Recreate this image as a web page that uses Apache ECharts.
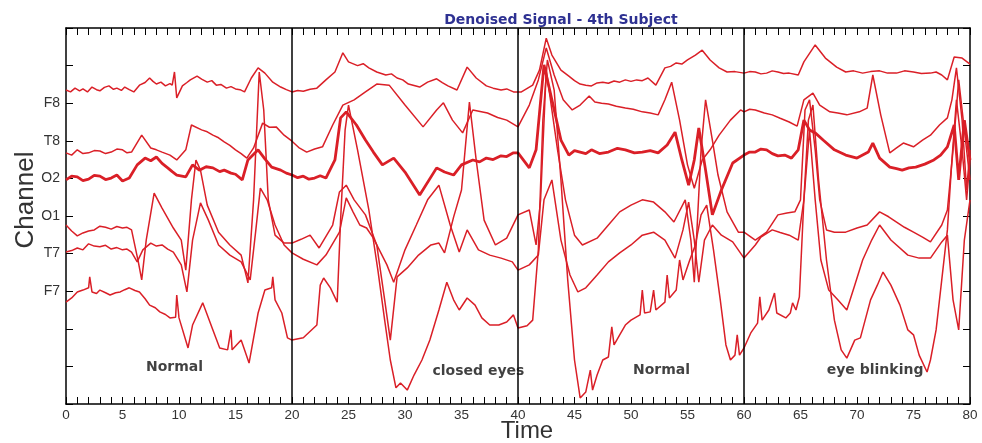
<!DOCTYPE html>
<html>
<head>
<meta charset="utf-8">
<script src="https://cdn.jsdelivr.net/npm/echarts@6/dist/echarts.min.js"></script>
<style>
html,body{margin:0;padding:0;background:#fff;}
#chart{width:982px;height:443px;}
</style>
</head>
<body>
<div id="chart"></div>
<script>
// ---- Data (time in seconds, value in channel-offset units) ----
const channelTicks = [3, 4, 5, 6, 7, 8];
const channelNames = ['F7', 'T7', 'O1', 'O2', 'T8', 'F8'];
const boundaries = [20, 40, 60];
const annotTimes = [9.6, 36.5, 52.7, 71.6];
const annotLevels = [0.98, 0.88, 0.90, 0.90];
const annotTexts = ['Normal', 'closed eyes', 'Normal', 'eye blinking'];

const F8 = [[0,8.35],[0.4,8.30],[0.8,8.40],[1.2,8.33],[1.5,8.38],[1.9,8.30],[2.3,8.43],[2.7,8.36],[3,8.33],[3.4,8.42],[3.8,8.46],[4.2,8.37],[4.5,8.40],[4.9,8.34],[5.2,8.43],[5.6,8.36],[6,8.30],[6.5,8.48],[7,8.55],[7.4,8.67],[7.7,8.58],[8,8.51],[8.4,8.56],[8.8,8.46],[9.2,8.52],[9.4,8.48],[9.6,8.83],[9.8,8.14],[10.3,8.46],[10.7,8.55],[11,8.62],[11.6,8.72],[12,8.64],[12.5,8.56],[12.9,8.60],[13.3,8.48],[13.7,8.50],[14.2,8.40],[14.6,8.44],[15,8.38],[15.4,8.36],[15.8,8.30],[16.4,8.67],[17,8.94],[17.6,8.80],[18.3,8.56],[19,8.43],[19.5,8.36],[20,8.30],[20.5,8.34],[21,8.32],[21.6,8.37],[22.2,8.40],[23,8.62],[23.8,8.83],[24.5,9.34],[25,9.10],[25.8,9.00],[26.3,9.05],[26.8,8.94],[27.5,8.83],[28.3,8.75],[28.8,8.78],[29.3,8.67],[29.8,8.62],[30.3,8.51],[31.3,8.43],[32,8.56],[32.8,8.65],[33.3,8.55],[33.8,8.46],[34.6,8.35],[35.5,8.96],[36.3,8.67],[37.2,8.46],[37.8,8.40],[38.5,8.35],[39,8.38],[39.6,8.30],[40.3,8.30],[41.3,8.48],[41.9,8.88],[42.5,9.73],[43,9.28],[43.8,8.88],[44.5,8.72],[45,8.60],[45.5,8.51],[46,8.48],[46.5,8.46],[47,8.54],[47.5,8.56],[48,8.53],[48.5,8.59],[49,8.56],[49.5,8.62],[50,8.58],[50.5,8.62],[51,8.60],[51.5,8.67],[52.2,8.48],[53,8.94],[53.5,8.98],[54,9.07],[54.5,9.04],[55,9.15],[55.7,9.28],[56.3,9.41],[57,9.15],[57.8,8.94],[58.5,8.83],[59.2,8.84],[60,8.80],[60.5,8.84],[61,8.83],[61.5,8.78],[62,8.80],[62.5,8.86],[63,8.83],[63.5,8.79],[64,8.80],[64.8,8.75],[65.3,9.10],[66.3,9.55],[67.2,9.20],[68.2,8.96],[69,8.83],[69.7,8.86],[70.5,8.80],[71.2,8.84],[72,8.86],[72.7,8.80],[73.5,8.80],[74.2,8.86],[75,8.83],[75.7,8.79],[76.5,8.80],[77,8.83],[77.5,8.75],[78,8.62],[78.6,9.23],[79.3,9.20],[80,9.04]];

const T8 = [[0,6.68],[0.5,6.62],[1,6.76],[1.5,6.66],[2,6.68],[2.5,6.74],[3,6.73],[3.5,6.66],[4,6.70],[4.5,6.78],[5,6.76],[5.4,6.68],[5.8,6.70],[6.7,7.15],[7.5,6.81],[8,6.76],[8.5,6.70],[9.2,6.62],[9.8,6.49],[10.6,6.76],[11.1,7.42],[12,7.29],[12.5,7.24],[13,7.15],[13.5,7.08],[14,6.97],[14.5,6.88],[15,6.76],[15.5,6.66],[16,6.54],[16.6,6.81],[17.4,7.47],[18,7.36],[18.6,7.37],[19.3,7.15],[20,6.99],[20.6,6.82],[21.3,6.70],[22,6.78],[22.7,6.84],[23.6,7.42],[24.5,7.95],[25.5,8.09],[26.5,8.30],[27.5,8.51],[28.6,8.48],[30,7.95],[31.6,7.37],[32.8,7.82],[33.4,8.01],[34.2,7.55],[35.1,7.21],[36,7.82],[37.3,7.74],[38.2,7.62],[39,7.55],[40,7.37],[41,7.95],[41.8,8.62],[42.5,9.47],[43.2,8.75],[44,8.09],[44.8,7.82],[45.5,7.95],[46.3,8.19],[46.8,8.03],[47.4,8.00],[48,7.98],[48.7,7.92],[49.5,7.87],[50.2,7.84],[51,7.77],[51.7,7.74],[52.4,7.69],[53,8.09],[53.6,8.56],[54.3,7.55],[55,6.36],[55.6,5.74],[56.3,6.49],[57,6.76],[57.8,7.15],[58.8,7.55],[59.7,7.82],[60,7.77],[60.5,7.84],[61,7.82],[61.8,7.74],[62.5,7.69],[63.2,7.60],[64,7.50],[64.7,7.39],[65.3,8.09],[66.1,8.27],[66.7,7.95],[67.6,7.77],[68.3,7.74],[69.1,7.69],[70.2,7.77],[70.9,7.87],[71.4,8.75],[72.1,7.69],[72.9,6.68],[73.5,6.81],[74.1,6.94],[75,6.84],[75.8,7.02],[76.5,7.15],[77.3,7.42],[78,7.61],[78.4,8.09],[78.8,8.94],[79.3,7.55],[79.7,5.69],[80,6.76]];

const O2 = [[0,5.96],[0.5,6.06],[1,6.04],[1.5,5.94],[2,5.98],[2.5,6.08],[3,6.06],[3.5,5.97],[4,6.01],[4.5,6.09],[5,5.93],[5.6,6.01],[6.3,6.36],[7,6.54],[7.5,6.47],[8,6.57],[8.5,6.40],[9,6.28],[9.4,6.18],[9.8,6.09],[10.6,6.04],[11.2,6.36],[11.8,6.22],[12.4,6.31],[13,6.28],[13.6,6.18],[14,6.22],[14.6,6.14],[15,6.11],[15.6,5.96],[16.1,6.49],[17,6.76],[17.6,6.52],[18.2,6.30],[19,6.22],[19.5,6.14],[20,6.09],[20.5,6.02],[21,6.06],[21.5,5.98],[22,6.01],[22.5,6.07],[23,6.01],[23.8,6.49],[24.3,7.61],[24.8,7.77],[25.7,7.42],[26.5,7.02],[27.2,6.70],[28,6.36],[29,6.54],[30,6.17],[31.3,5.56],[32.8,6.28],[33.5,6.17],[34.3,6.09],[35,6.36],[36,6.49],[36.6,6.44],[37.2,6.54],[37.8,6.50],[38.5,6.60],[39,6.58],[39.6,6.68],[40,6.68],[41,6.28],[41.6,6.76],[42.3,9.02],[43,8.09],[43.8,7.02],[44.5,6.62],[45,6.74],[45.5,6.70],[46,6.66],[46.5,6.76],[47.2,6.66],[48,6.70],[48.8,6.80],[49.5,6.76],[50.3,6.68],[51,6.70],[51.7,6.74],[52.4,6.68],[53.2,6.89],[53.9,7.23],[54.5,6.49],[55.1,5.82],[55.6,6.49],[56,7.34],[56.6,6.22],[57.2,5.03],[58,5.69],[59,6.41],[60,6.62],[60.5,6.70],[61,6.70],[61.5,6.78],[62,6.76],[62.5,6.66],[63,6.60],[63.6,6.62],[64.2,6.54],[64.8,6.76],[65.3,7.55],[65.8,7.29],[66.3,7.21],[67,7.02],[68,6.76],[69,6.62],[70,6.54],[71,6.70],[71.4,6.94],[72,6.54],[72.9,6.30],[73.5,6.26],[74,6.22],[74.6,6.28],[75.2,6.30],[76,6.38],[76.8,6.49],[77.4,6.62],[78,6.84],[78.6,7.42],[79,5.96],[79.5,7.55],[80,6.49]];

const O1 = [[0,4.76],[0.5,4.60],[1,4.47],[1.5,4.55],[2,4.60],[2.5,4.63],[3,4.73],[3.5,4.70],[4,4.65],[4.5,4.72],[5,4.68],[5.4,4.70],[5.8,4.63],[6.4,3.78],[6.7,3.30],[7.1,4.36],[7.8,5.61],[8.5,5.21],[9.5,4.68],[10.2,4.36],[10.6,3.56],[11.1,5.43],[11.5,6.49],[11.9,6.22],[12.5,5.29],[13.5,4.57],[14.5,4.23],[15.5,3.96],[16.1,3.22],[16.6,5.43],[17.1,8.83],[17.5,7.82],[17.9,5.43],[18.5,4.49],[19.3,4.28],[20,4.28],[20.8,4.38],[21.6,4.49],[22.4,4.15],[23.6,4.76],[24.2,5.64],[24.8,5.82],[25.5,5.43],[26.5,5.03],[27.5,4.23],[28.2,2.77],[28.7,1.70],[29.3,3.38],[30.2,3.62],[31.2,3.96],[32.3,4.23],[33,4.28],[33.5,4.02],[34.3,4.97],[35,5.69],[35.7,8.03],[36.3,6.49],[37,4.89],[38,4.23],[39,4.41],[40,5.03],[41,5.16],[41.6,4.23],[42,5.43],[42.5,8.88],[43.5,6.76],[44.2,5.43],[45,4.49],[45.7,4.23],[47,4.41],[48,4.76],[49,5.11],[50,5.29],[51,5.43],[52,5.37],[53,5.11],[53.8,4.84],[54.8,5.43],[55.3,4.36],[55.6,3.24],[56.2,6.76],[56.6,8.09],[57.2,7.02],[57.7,6.09],[58.5,5.11],[59.5,4.57],[60,4.57],[61,4.36],[62,4.57],[63,5.03],[63.8,5.08],[64.5,5.11],[65,5.43],[65.4,7.82],[65.8,8.09],[66.3,6.76],[66.7,5.43],[67.3,4.63],[68,4.57],[69,4.57],[70,4.68],[70.9,4.76],[72,5.11],[72.8,4.98],[73.5,4.84],[74.2,4.70],[75,4.57],[75.8,4.44],[76.5,4.31],[77.5,4.76],[78,5.16],[78.5,6.76],[79,8.62],[79.5,7.29],[80,5.96]];

const T7 = [[0,4.04],[0.5,4.08],[1,4.15],[1.5,4.10],[2,4.26],[2.5,4.20],[3,4.18],[3.5,4.22],[4,4.12],[4.5,4.16],[5,4.10],[5.4,4.12],[5.8,4.04],[6.3,3.78],[6.8,4.10],[7.5,4.28],[8,4.20],[8.5,4.23],[9,4.12],[9.5,4.04],[10.2,3.70],[10.7,2.98],[11.2,4.36],[11.9,5.35],[12.6,4.89],[13.5,4.23],[14.5,3.96],[15.5,3.78],[16.3,3.30],[16.8,4.63],[17.2,5.74],[17.8,5.43],[18.5,4.76],[19.3,4.23],[20,4.02],[21,3.85],[22.2,3.70],[23,3.96],[24.2,4.57],[24.8,5.48],[25.4,5.11],[26,4.76],[26.6,4.68],[27.2,4.41],[28.4,3.70],[29,3.24],[30,4.10],[31,4.76],[32,5.43],[33,5.82],[34,4.76],[34.8,4.04],[35.5,4.63],[36.5,4.10],[37.5,3.96],[38.5,3.88],[39.5,3.78],[40,3.56],[41,3.70],[41.8,3.96],[42.3,5.43],[43,5.96],[43.8,4.36],[44.6,3.43],[45.3,2.98],[46,3.09],[47,3.43],[48,3.78],[49,4.02],[50,4.23],[51,4.49],[52,4.57],[53,4.36],[53.9,3.88],[54.6,4.63],[55.1,5.37],[55.6,4.36],[56,3.24],[56.5,4.36],[57.2,4.76],[58,4.49],[59,4.31],[60,3.88],[61,4.23],[61.5,4.44],[62.5,4.63],[63.2,4.56],[64,4.49],[64.8,4.36],[65.3,5.43],[65.8,7.29],[66.3,5.43],[66.8,3.83],[67.5,3.03],[68.3,2.77],[69.1,2.50],[69.8,3.16],[70.5,3.83],[71.3,4.36],[72,4.76],[73,4.36],[74.5,3.96],[75.5,3.88],[76.5,3.88],[77.5,4.31],[78,4.49],[78.5,2.77],[79,1.97],[79.5,4.36],[80,5.43]];

const F7 = [[0,2.71],[0.5,2.82],[1,2.98],[1.5,3.03],[2,3.09],[2.1,3.38],[2.3,2.98],[2.7,2.94],[3,3.03],[3.5,2.96],[3.9,2.90],[4.4,2.96],[4.8,2.98],[5.2,3.04],[5.6,3.09],[6.1,3.02],[6.5,2.98],[7,2.80],[7.4,2.63],[7.9,2.56],[8.3,2.45],[8.8,2.38],[9.2,2.29],[9.7,2.31],[9.8,2.90],[10,2.29],[10.8,1.49],[11.2,2.10],[12.1,2.69],[13,1.97],[13.6,1.49],[14.3,1.44],[14.6,1.97],[14.7,1.44],[15.5,1.70],[16.2,1.09],[17,2.42],[17.6,3.03],[18.2,3.09],[18.3,3.38],[18.5,2.77],[19.1,2.42],[19.6,1.76],[20,1.70],[21,1.76],[22.2,2.10],[22.5,3.16],[22.8,3.35],[23.4,3.09],[24,2.71],[24.3,4.89],[24.7,7.29],[25,7.95],[25.8,6.76],[26.8,5.16],[27.6,3.56],[28.2,2.23],[28.7,1.17],[29.2,0.43],[29.6,0.56],[30.2,0.37],[30.8,0.77],[31.5,1.17],[32.2,1.70],[33,2.50],[33.7,3.24],[34.3,2.77],[34.8,2.50],[35.5,2.82],[36.2,2.63],[36.8,2.29],[37.5,2.10],[38.3,2.10],[39,2.18],[39.6,2.37],[40,2.02],[40.8,2.08],[41.3,2.23],[41.8,4.10],[42.2,7.55],[42.6,9.15],[43.2,8.35],[43.8,5.96],[44.4,3.30],[45,1.17],[45.5,0.16],[46,0.32],[46.4,0.90],[46.6,0.37],[47,0.77],[47.5,1.17],[48,1.25],[48.3,2.05],[48.5,1.57],[49,1.84],[49.5,2.10],[50,2.23],[50.8,2.37],[51,3.03],[51.2,2.42],[51.7,2.45],[52,3.03],[52.2,2.50],[53,2.71],[53.2,3.43],[53.4,2.82],[54,3.03],[54.3,3.83],[54.6,3.30],[55.2,3.83],[55.7,4.23],[56.2,5.03],[56.7,5.29],[57.3,4.10],[57.9,2.77],[58.4,1.57],[58.8,1.17],[59.2,1.30],[59.4,1.84],[59.6,1.30],[60,1.49],[60.6,1.89],[61.2,2.15],[61.4,2.85],[61.6,2.23],[62.2,2.50],[62.7,2.95],[62.9,2.42],[63.7,2.29],[64.1,2.42],[64.3,2.69],[64.6,2.50],[64.9,2.85],[65.3,5.43],[65.7,7.55],[66.1,7.95],[66.6,5.96],[67.3,3.83],[68,2.23],[68.6,1.44],[69.1,1.22],[69.8,1.70],[70.3,1.76],[71.2,2.77],[71.8,3.16],[72.3,3.51],[73,3.16],[73.8,2.63],[74.5,1.97],[75,1.84],[75.5,1.30],[76.2,0.85],[76.5,1.17],[77,1.97],[77.5,3.30],[78,4.63],[78.4,6.49],[78.8,8.09],[79.3,6.76],[79.7,5.43],[80,6.49]];

// ---- Chart ----
const chart = echarts.init(document.getElementById('chart'), null, {renderer: 'canvas'});
const font = 'Liberation Sans, Arial, sans-serif';
const red = '#da1f27';

function lineSeries(name, data, width) {
  return {
    name: name, type: 'line', data: data, showSymbol: false, symbol: 'none',
    lineStyle: {color: red, width: width}, silent: true, animation: false, z: 3
  };
}

const series = [
  lineSeries('F8', F8, 1.5),
  lineSeries('T8', T8, 1.5),
  lineSeries('O2', O2, 2.8),
  lineSeries('O1', O1, 1.5),
  lineSeries('T7', T7, 1.5),
  lineSeries('F7', F7, 1.5)
];
series[0].markLine = {
  symbol: 'none', silent: true, animation: false,
  label: {show: false},
  lineStyle: {color: '#000', width: 1.5, type: 'solid'},
  data: boundaries.map(b => ({xAxis: b}))
};
series.push({
  type: 'scatter', symbolSize: 0, silent: true, animation: false, z: 5,
  data: annotTimes.map((t, i) => [t, annotLevels[i], annotTexts[i]]),
  label: {
    show: true, position: 'inside', formatter: p => p.data[2],
    fontFamily: 'DejaVu Sans, sans-serif', fontWeight: 'bold', fontSize: 14, color: '#111'
  }
});

const nameMap = {};
channelTicks.forEach((v, i) => nameMap[v] = channelNames[i]);

chart.setOption({
  backgroundColor: '#fff',
  animation: false,
  title: {
    text: 'Denoised Signal - 4th Subject', left: 556, top: 8, textAlign: 'center',
    textStyle: {fontFamily: 'DejaVu Sans, sans-serif', fontWeight: 'bold', fontSize: 14, color: '#2e3192'}
  },
  grid: {left: 66, right: 12, top: 28, bottom: 39, outerBoundsMode: 'none', containLabel: false},
  xAxis: [{
    type: 'value', min: 0, max: 80, interval: 5, position: 'bottom',
    name: 'Time', nameLocation: 'middle', nameGap: 15, nameMoveOverlap: false,
    nameTextStyle: {fontFamily: font, fontSize: 24, color: '#333', padding: [0, 0, 0, 18]},
    axisLine: {show: true, onZero: false, lineStyle: {color: '#000', width: 1.5}},
    axisTick: {show: true, inside: true, length: 7, lineStyle: {color: '#000', width: 1}},
    minorTick: {show: true, splitNumber: 5, length: 7, lineStyle: {color: '#000', width: 1}},
    axisLabel: {fontFamily: font, fontSize: 13.5, color: '#333', margin: 4},
    splitLine: {show: false}
  }, {
    type: 'value', min: 0, max: 80, interval: 5, position: 'top',
    axisLine: {show: true, onZero: false, lineStyle: {color: '#000', width: 1.5}},
    axisTick: {show: true, inside: true, length: 7, lineStyle: {color: '#000', width: 1}},
    minorTick: {show: true, splitNumber: 5, length: 7, lineStyle: {color: '#000', width: 1}},
    axisLabel: {show: false}, splitLine: {show: false}
  }],
  yAxis: [{
    type: 'value', min: 0, max: 10, interval: 1, position: 'left',
    name: 'Channel', nameLocation: 'middle', nameGap: 27, nameMoveOverlap: false,
    nameTextStyle: {fontFamily: font, fontSize: 26, color: '#333', padding: [0, 0, 0, 32]},
    axisLine: {show: true, onZero: false, lineStyle: {color: '#000', width: 1.5}},
    axisTick: {show: true, inside: true, length: 7, lineStyle: {color: '#000', width: 1}},
    axisLabel: {fontFamily: font, fontSize: 14, color: '#333', margin: 6,
      formatter: v => nameMap[v] || ''},
    splitLine: {show: false}
  }, {
    type: 'value', min: 0, max: 10, interval: 1, position: 'right',
    axisLine: {show: true, onZero: false, lineStyle: {color: '#000', width: 1.5}},
    axisTick: {show: true, inside: true, length: 7, lineStyle: {color: '#000', width: 1}},
    axisLabel: {show: false}, splitLine: {show: false}
  }],
  series: series
});
</script>
</body>
</html>
